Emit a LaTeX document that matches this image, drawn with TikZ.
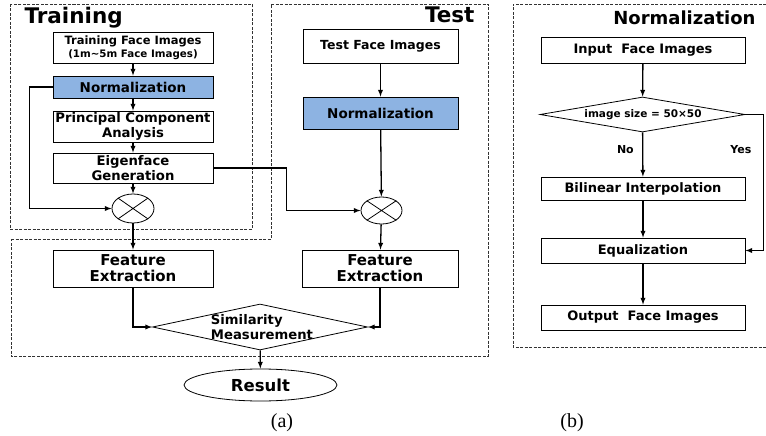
\documentclass[tikz,border=0pt]{standalone}
\usepackage{fontspec}
\setmainfont{Liberation Serif}
\newfontfamily\boxfont{DejaVu Sans}
\usetikzlibrary{shapes.geometric}
\definecolor{normblue}{RGB}{141,179,226}
\newcommand\fsz[1]{\fontsize{#1}{#1}\selectfont}
\begin{document}
\begin{tikzpicture}[
    x=1pt, y=-1pt,
    box/.style={rectangle, draw, line width=0.8pt, inner sep=1pt, align=center,
        font=\boxfont\bfseries\fsz{12.5}},
    normbox/.style={box, fill=normblue, font=\boxfont\bfseries\fsz{13.5}},
    mult/.style={ellipse, draw, line width=0.8pt, minimum width=42, minimum height=29, inner sep=0pt},
    decision/.style={diamond, draw, line width=0.8pt, inner sep=0pt},
    frame/.style={draw=black!80, line width=0.9pt, dash pattern=on 3pt off 1.5pt},
    arr/.style={draw, line width=1.3pt, -latex},
    head/.style={font=\boxfont\bfseries\fsz{21.5}},
    tag/.style={font=\boxfont\bfseries\fsz{11}}
    ]
\useasboundingbox (0,0) rectangle (766,436);

% frames
\draw[frame] (10,4) rectangle (252,229);
\draw[frame] (11,239) -- (271,239) -- (271,4) -- (488,4) -- (488,356) -- (11,356) -- cycle;
\draw[frame] (766,4) -- (513,4) -- (513,347) -- (766,347);

\node[head, anchor=base west] (htrain) at (21,24) {Training};
\node[head, anchor=base east] (htest) at (478,23) {Test};
\node[head, anchor=base east, font=\boxfont\bfseries\fsz{18}] (hnorm) at (759,25) {Normalization};

% training
\node[box, minimum width=160, minimum height=31] (tface) at (133,47.5)
    {{\fsz{11.5}Training\ Face Images}\\[1pt]{\fsz{10.3}(1m\textasciitilde5m Face Images)}};
\node[normbox, minimum width=160, minimum height=22] (norm1) at (133,87) {Normalization};
\node[box, minimum width=160, minimum height=31, font=\boxfont\bfseries\fsz{13.2}] (pca) at (133,126.5) {Principal Component\\[1pt]Analysis};
\node[box, minimum width=160, minimum height=30, font=\boxfont\bfseries\fsz{13.2}] (eigen) at (133,168) {Eigenface\\[1pt]Generation};
\node[mult] (mul1) at (133,208.5) {};

% test
\node[box, minimum width=155, minimum height=34] (tfaceT) at (380.5,46) {Test Face Images};
\node[normbox, minimum width=155, minimum height=32] (norm2) at (380.5,113) {Normalization};
\node[mult, minimum width=41, minimum height=27] (mul2) at (381.5,210.5) {};

% matching
\node[box, minimum width=160, minimum height=37, font=\boxfont\bfseries\fsz{15}] (fe1) at (133,268.5) {Feature\\[1pt]Extraction};
\node[box, minimum width=156, minimum height=37, font=\boxfont\bfseries\fsz{15}] (fe2) at (380,268.5) {Feature\\[1pt]Extraction};
\node[decision, minimum width=215, minimum height=46] (sim) at (260,327) {};
\node[align=left, inner sep=0pt, font=\boxfont\bfseries\fsz{13.2}] (simtext) at (262,327) {Similarity\\[2pt]Measurement};
\node[ellipse, draw, line width=0.8pt, minimum width=153, minimum height=32, font=\boxfont\bfseries\fsz{16.5}] (result) at (260.5,385) {Result};

% normalization
\node[box, minimum width=204, minimum height=26, font=\boxfont\bfseries\fsz{13}] (inp) at (643,50) {Input\ \ Face Images};
\node[decision, minimum width=205, minimum height=35] (cond) at (642.5,114.5) {};
\node[inner sep=0pt, font=\boxfont\bfseries\fsz{10.5}] (condtext) at (643,114.5) {image size = 50\texttimes50};
\node[box, minimum width=204, minimum height=23, font=\boxfont\bfseries\fsz{13}] (bil) at (643,188.5) {Bilinear Interpolation};
\node[box, minimum width=204, minimum height=25, font=\boxfont\bfseries\fsz{13}] (equ) at (643,250.5) {Equalization};
\node[box, minimum width=204, minimum height=25, font=\boxfont\bfseries\fsz{13}] (outp) at (643,317.5) {Output\ \ Face Images};

\node[font=\normalfont\fsz{20}] (capa) at (282,423) {(a)};
\node[font=\normalfont\fsz{20}] (capb) at (572,423) {(b)};

% cross marks
\draw[line width=0.8pt] (mul1.north west) -- (mul1.south east) (mul1.north east) -- (mul1.south west);
\draw[line width=0.8pt] (mul2.north west) -- (mul2.south east) (mul2.north east) -- (mul2.south west);

% connectors
\draw[arr] (tface) -- (norm1);
\draw[arr] (norm1) -- (pca);
\draw[arr] (pca) -- (eigen);
\draw[arr] (eigen) -- (mul1);
\draw[arr] (norm1.west) -- ++(-23,0) |- (mul1.west);
\draw[arr] (eigen.east) -- ++(73,0) |- (mul2.west);
\draw[arr] (tfaceT) -- (norm2);
\draw[arr] (norm2) -- (mul2);
\draw[arr] (mul1) -- (fe1);
\draw[arr] (mul2) -- (fe2);
\draw[arr] (fe1.south) |- (sim.west);
\draw[arr] (fe2.south) |- (sim.east);
\draw[arr] (sim) -- (result);

\draw[arr] (inp) -- (cond);
\draw[arr] (cond) -- node[tag, pos=0.4, left=5pt] {No} (bil);
\draw[arr] (bil) -- (equ);
\draw[arr] (equ) -- (outp);
\draw[arr] (cond.east) -- ++(18,0) |- node[tag, pos=0.13, left=8pt] {Yes} (equ.east);
\end{tikzpicture}
\end{document}
